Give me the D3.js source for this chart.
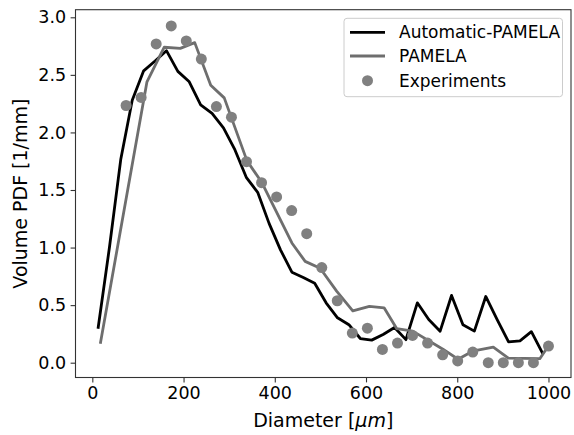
<!DOCTYPE html>
<html><head><meta charset="utf-8">
<script src="https://cdn.jsdelivr.net/npm/d3@7"></script>
<style>body{margin:0;background:#fff}text{font-family:"DejaVu Sans",sans-serif}</style>
</head><body>
<svg id="chart" width="574" height="435"></svg>
<script>
// Automatic-PAMELA (black line)
const autoX = [12.5,37.5,62.5,87.5,112.5,137.5,162.5,187.5,212.5,237.5,262.5,287.5,312.5,337.5,362.5,387.5,412.5,437.5,462.5,487.5,512.5,537.5,562.5,587.5,612.5,637.5,662.5,687.5,712.5,737.5,762.5,787.5,812.5,837.5,862.5,887.5,912.5,937.5,962.5,987.5];
const autoY = [0.295,1.00,1.77,2.28,2.535,2.62,2.71,2.53,2.44,2.24,2.165,2.04,1.85,1.61,1.48,1.21,0.98,0.786,0.74,0.69,0.52,0.39,0.33,0.21,0.196,0.245,0.306,0.20,0.52,0.375,0.274,0.584,0.33,0.274,0.575,0.375,0.18,0.19,0.27,0.078];
// PAMELA (gray line)
const pamelaX = [17.5,119.8,157.7,192.8,224.5,259.6,289.2,338.9,371.7,437.5,466.6,499.5,536,571,607.4,639.6,667.5,702.5,769.5,801.8,833.5,879,912,981,999];
const pamelaY = [0.165,2.44,2.74,2.73,2.78,2.41,2.30,1.755,1.565,1.04,0.88,0.82,0.62,0.45,0.49,0.477,0.295,0.274,0.115,0.03,0.10,0.135,0.04,0.035,0.14];
// Experiments (gray dots)
const expX = [74,107,140,173,206,239,272,305,338,371,404,437,470,503,537,570,603,636,669,702,735,768,801,834,868,901,934,967,1000];
const expY = [2.234,2.304,2.769,2.925,2.795,2.637,2.225,2.132,1.746,1.564,1.440,1.321,1.121,0.826,0.538,0.257,0.300,0.115,0.170,0.237,0.170,0.068,0.015,0.092,0.0,0.0,0.0,0.0,0.144];

const xTicks = [0,200,400,600,800,1000];
const yTicks = [0.0,0.5,1.0,1.5,2.0,2.5,3.0];
const seriesNames = ["Automatic-PAMELA","PAMELA","Experiments"];
const xLabel = "Diameter [";
const yLabel = "Volume PDF [1/mm]";

const svg = d3.select("#chart");
const L = 75.5, R = 571, T = 9.7, B = 377.5;
const x = d3.scaleLinear().domain([-36.875, 1049.375]).range([L, R]);
const y = d3.scaleLinear().domain([-0.1286, 3.066]).range([B, T]);
const FS = 17;

const line = d3.line().x(d => x(d[0])).y(d => y(d[1]));
const autoData = autoX.map((v,i)=>[v,autoY[i]]);
const pamData = pamelaX.map((v,i)=>[v,pamelaY[i]]);
const expData = expX.map((v,i)=>[v,expY[i]]);

const plot = svg.append("g");
plot.append("path").datum(autoData).attr("d", line)
  .attr("fill","none").attr("stroke","#000").attr("stroke-width",2.8).attr("stroke-linejoin","round");
plot.append("path").datum(pamData).attr("d", line)
  .attr("fill","none").attr("stroke","#6e6e6e").attr("stroke-width",2.8).attr("stroke-linejoin","round");
plot.selectAll("circle.exp").data(expData).enter().append("circle")
  .attr("class","exp").attr("cx", d=>x(d[0])).attr("cy", d=>y(d[1])).attr("r",5.5).attr("fill","#808080");

// axes
const xAxis = d3.axisBottom(x).tickValues(xTicks).tickFormat(d3.format("d")).tickSizeOuter(0).tickSize(4.9).tickPadding(4.5);
const yAxis = d3.axisLeft(y).tickValues(yTicks).tickFormat(d3.format(".1f")).tickSizeOuter(0).tickSize(4.9).tickPadding(4.5);
const gx = svg.append("g").attr("transform",`translate(0,${B})`).call(xAxis);
const gy = svg.append("g").attr("transform",`translate(${L},0)`).call(yAxis);
[gx,gy].forEach(g=>{
  g.select(".domain").remove();
  g.selectAll(".tick line").attr("stroke","#333").attr("stroke-width",1.1);
  g.selectAll(".tick text").attr("font-size",17.5).attr("font-family","DejaVu Sans").attr("fill","#000");
});
// frame
svg.append("rect").attr("x",L).attr("y",T).attr("width",R-L).attr("height",B-T)
  .attr("fill","none").attr("stroke","#333").attr("stroke-width",1.1);

// labels
const xl = svg.append("text").attr("x",(L+R)/2).attr("y",427).attr("text-anchor","middle").attr("font-size",19).attr("fill","#000");
xl.append("tspan").text(xLabel);
xl.append("tspan").attr("font-style","italic").text("\u03bcm");
xl.append("tspan").text("]");
svg.append("text").attr("transform",`translate(27,${(T+B)/2}) rotate(-90)`).attr("text-anchor","middle")
  .attr("font-size",19).attr("fill","#000").text(yLabel);

// legend
const lg = svg.append("g");
lg.append("rect").attr("x",344).attr("y",18.3).attr("width",218.5).attr("height",78.4).attr("rx",3)
  .attr("fill","#fff").attr("fill-opacity",0.8).attr("stroke","#ccc").attr("stroke-width",1);
const ly = [32.3,56,80.7];
lg.append("line").attr("x1",350).attr("x2",385).attr("y1",ly[0]).attr("y2",ly[0]).attr("stroke","#000").attr("stroke-width",2.8);
lg.append("line").attr("x1",350).attr("x2",385).attr("y1",ly[1]).attr("y2",ly[1]).attr("stroke","#6e6e6e").attr("stroke-width",2.8);
lg.append("circle").attr("cx",367.5).attr("cy",ly[2]).attr("r",5.5).attr("fill","#808080");
seriesNames.forEach((n,i)=>{
  lg.append("text").attr("x",399).attr("y",ly[i]).attr("dy","0.35em").attr("font-size",FS).attr("fill","#000").text(n);
});
</script>
</body></html>
